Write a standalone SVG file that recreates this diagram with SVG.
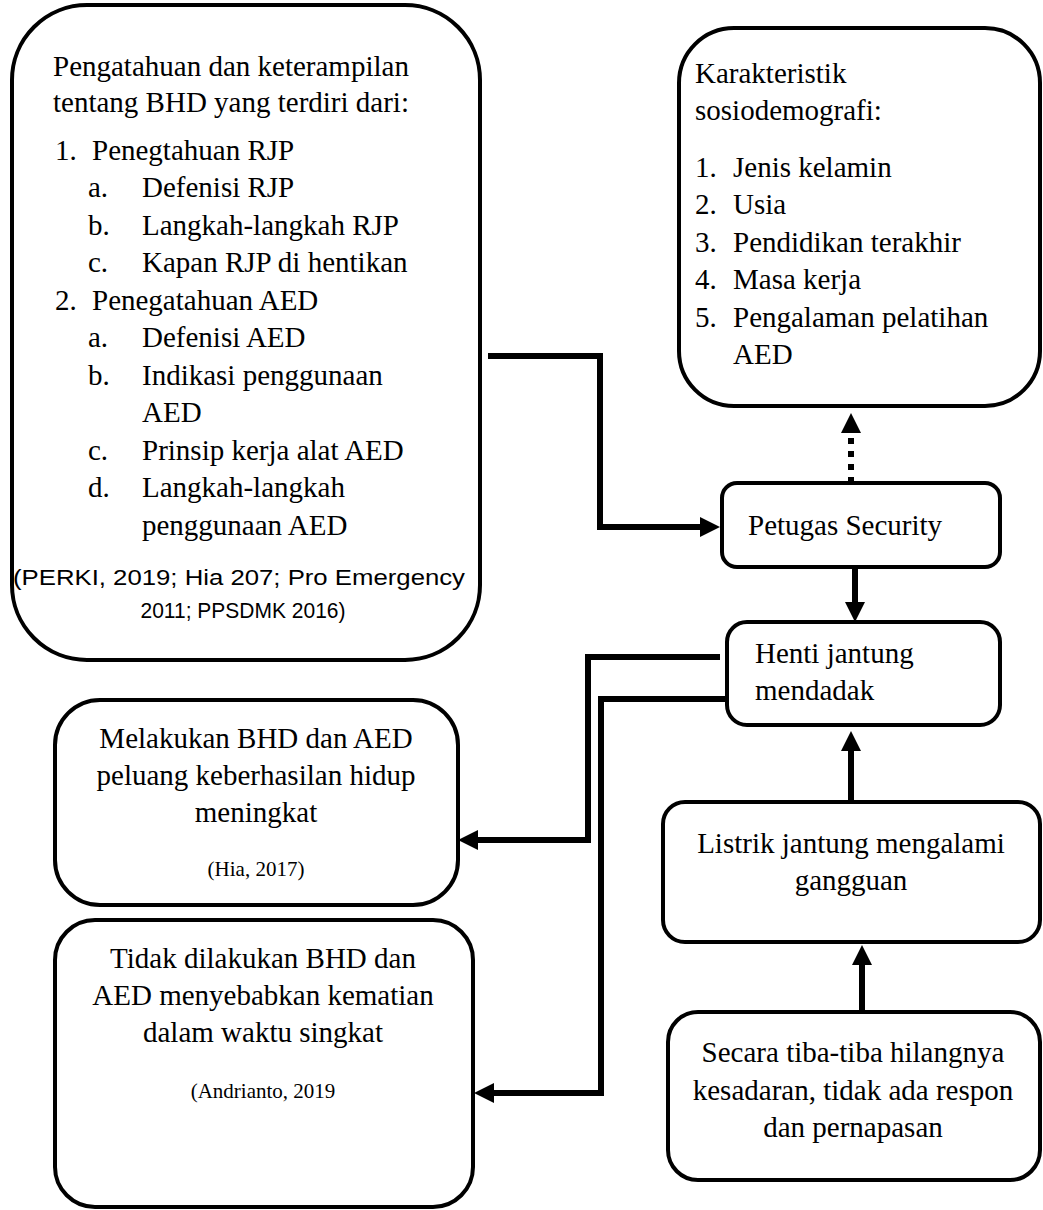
<svg xmlns="http://www.w3.org/2000/svg" width="1043" height="1210" viewBox="0 0 1043 1210">
<style>
.box{fill:#fff;stroke:#000;stroke-width:4}
.t{font-family:"Liberation Serif","Times New Roman",serif;font-size:29px;fill:#000}
.c{text-anchor:middle}
.s{font-family:"Liberation Serif","Times New Roman",serif;font-size:21px;fill:#000;text-anchor:middle}
.cal{font-family:"Liberation Sans",Arial,sans-serif;font-size:22px;fill:#000;text-anchor:middle}
.con{fill:none;stroke:#000;stroke-width:6}
.dot{fill:none;stroke:#000;stroke-width:6;stroke-dasharray:6 7}
</style>
<defs>
<marker id="ah" markerUnits="userSpaceOnUse" markerWidth="20" markerHeight="20" refX="0" refY="10" orient="auto">
<path d="M0,0 L20,10 L0,20 z" fill="#000"/>
</marker>
</defs>
<rect width="1043" height="1210" fill="#fff"/>

<g id="connectors">
<path class="con" d="M488,356 H600 V527 H700" marker-end="url(#ah)"/>
<path class="dot" d="M851,483 V433" marker-end="url(#ah)"/>
<path class="con" d="M855,567 V602" marker-end="url(#ah)"/>
<path class="con" d="M851,800 V751" marker-end="url(#ah)"/>
<path class="con" d="M862,1012 V965" marker-end="url(#ah)"/>
<path class="con" d="M720,657 H588 V840 H478" marker-end="url(#ah)"/>
<path class="con" d="M727,699 H601 V1093 H494" marker-end="url(#ah)"/>
</g>

<g id="node-bhd">
<rect class="box" x="12" y="5" width="468" height="655" rx="75" ry="75"/>
<text class="t" x="53" y="76">Pengatahuan dan keterampilan</text>
<text class="t" x="53" y="112">tentang BHD yang terdiri dari:</text>
<text class="t" x="55" y="160">1.</text><text class="t" x="92" y="160">Penegtahuan RJP</text>
<text class="t" x="88" y="197">a.</text><text class="t" x="142" y="197">Defenisi RJP</text>
<text class="t" x="88" y="235">b.</text><text class="t" x="142" y="235">Langkah-langkah RJP</text>
<text class="t" x="88" y="272">c.</text><text class="t" x="142" y="272">Kapan RJP di hentikan</text>
<text class="t" x="55" y="310">2.</text><text class="t" x="92" y="310">Penegatahuan AED</text>
<text class="t" x="88" y="347">a.</text><text class="t" x="142" y="347">Defenisi AED</text>
<text class="t" x="88" y="385">b.</text><text class="t" x="142" y="385">Indikasi penggunaan</text>
<text class="t" x="142" y="422">AED</text>
<text class="t" x="88" y="460">c.</text><text class="t" x="142" y="460">Prinsip kerja alat AED</text>
<text class="t" x="88" y="497">d.</text><text class="t" x="142" y="497">Langkah-langkah</text>
<text class="t" x="142" y="535">penggunaan AED</text>
<text class="cal" x="239" y="585" textLength="452" lengthAdjust="spacingAndGlyphs">(PERKI, 2019; Hia 207; Pro Emergency</text>
<text class="cal" x="243" y="618" textLength="205" lengthAdjust="spacingAndGlyphs">2011; PPSDMK 2016)</text>
</g>

<g id="node-karakteristik">
<rect class="box" x="679" y="28" width="361" height="378" rx="55" ry="55"/>
<text class="t" x="695" y="83">Karakteristik</text>
<text class="t" x="695" y="120">sosiodemografi:</text>
<text class="t" x="695" y="177">1.</text><text class="t" x="733" y="177">Jenis kelamin</text>
<text class="t" x="695" y="214">2.</text><text class="t" x="733" y="214">Usia</text>
<text class="t" x="695" y="252">3.</text><text class="t" x="733" y="252">Pendidikan terakhir</text>
<text class="t" x="695" y="289">4.</text><text class="t" x="733" y="289">Masa kerja</text>
<text class="t" x="695" y="327">5.</text><text class="t" x="733" y="327">Pengalaman pelatihan</text>
<text class="t" x="733" y="364">AED</text>
</g>

<g id="node-petugas">
<rect class="box" x="722" y="483" width="278" height="84" rx="15" ry="15"/>
<text class="t" x="748" y="535">Petugas Security</text>
</g>

<g id="node-henti">
<rect class="box" x="727" y="622" width="273" height="103" rx="20" ry="20"/>
<text class="t" x="755" y="663">Henti jantung</text>
<text class="t" x="755" y="700">mendadak</text>
</g>

<g id="node-listrik">
<rect class="box" x="663" y="802" width="377" height="140" rx="22" ry="22"/>
<text class="t c" x="851" y="853">Listrik jantung mengalami</text>
<text class="t c" x="851" y="890">gangguan</text>
</g>

<g id="node-secara">
<rect class="box" x="668" y="1012" width="372" height="168" rx="30" ry="30"/>
<text class="t c" x="853" y="1062">Secara tiba-tiba hilangnya</text>
<text class="t c" x="853" y="1100">kesadaran, tidak ada respon</text>
<text class="t c" x="853" y="1137">dan pernapasan</text>
</g>

<g id="node-melakukan">
<rect class="box" x="55" y="700" width="403" height="205" rx="45" ry="45"/>
<text class="t c" x="256" y="748">Melakukan BHD dan AED</text>
<text class="t c" x="256" y="785">peluang keberhasilan hidup</text>
<text class="t c" x="256" y="822">meningkat</text>
<text class="s" x="256" y="876">(Hia, 2017)</text>
</g>

<g id="node-tidak">
<rect class="box" x="55" y="920" width="418" height="287" rx="40" ry="40"/>
<text class="t c" x="263" y="968">Tidak dilakukan BHD dan</text>
<text class="t c" x="263" y="1005">AED menyebabkan kematian</text>
<text class="t c" x="263" y="1042">dalam waktu singkat</text>
<text class="s" x="263" y="1098">(Andrianto, 2019</text>
</g>
</svg>
